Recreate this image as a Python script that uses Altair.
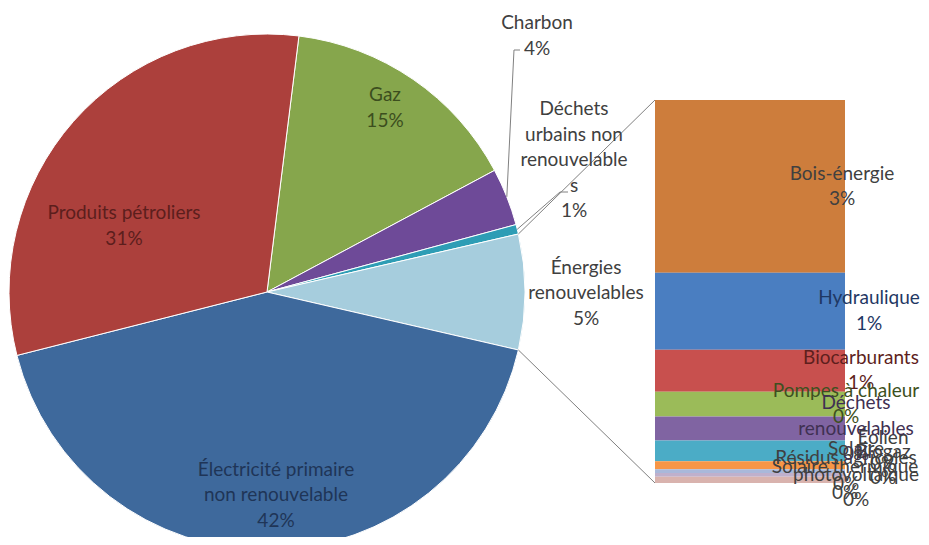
import math
import altair as alt
import pandas as pd

# ---------------- data ----------------
pie_categories = ["Gaz", "Charbon", "Déchets urbains non renouvelables",
                  "Énergies renouvelables",
                  "Électricité primaire non renouvelable", "Produits pétroliers"]
pie_values_other = [15.2, 3.6, 0.6, None, 42.4, 30.9]   # ENR = sum of the bar below
pie_label_text = ["Gaz\n15%", "Charbon\n4%",
                  "Déchets\nurbains non\nrenouvelable\ns\n1%",
                  "Énergies\nrenouvelables\n5%",
                  "Électricité primaire\nnon renouvelable\n42%",
                  "Produits pétroliers\n31%"]

bar_categories = ["Bois-énergie", "Hydraulique", "Biocarburants", "Pompes à chaleur",
                  "Déchets renouvelables", "Éolien", "Biogaz", "Résidus agricoles",
                  "Solaire photovoltaïque", "Solaire thermique"]
bar_values = [3.25, 1.45, 0.79, 0.47, 0.45, 0.39, 0.15, 0.07, 0.07, 0.12]
bar_label_text = ["Bois-énergie\n3%", "Hydraulique\n1%", "Biocarburants\n1%",
                  "Pompes à chaleur\n0%", "Déchets\nrenouvelables\n0%", "Éolien\n0%",
                  "Biogaz\n0%", "Résidus agricoles\n0%", "Solaire\nphotovoltaïque\n0%",
                  "Solaire thermique\n0%"]

# ---------------- styles ----------------
pie_colors = ["#86A64C", "#6E4A98", "#2E9DB5", "#A6CDDD", "#3E699C", "#AC403C"]
bar_colors = ["#CD7D3C", "#4A7EC1", "#C8504E", "#9BBB59", "#8064A2", "#4BACC6",
              "#F79646", "#A9B8DA", "#BFB0CC", "#D9B3AE"]
pie_label_colors = ["#3C4E1E", "#404040", "#404040", "#404040", "#1F3557", "#5C1E1C"]
bar_label_colors = ["#404040", "#1F3864", "#5E1F1D", "#3D5020", "#3F3052",
                    "#404040", "#404040", "#404040", "#404040", "#404040"]
# label block centres (chart pixels)
pie_label_pos = [(377, 100), (529, 28), (566, 152), (578, 285), (268, 487), (116, 218)]
bar_label_x = [834, 861, 853, 838, 848, 875, 875, 838, 848, 837]

W, H = 913, 529
CX, CY, R = 259, 284, 258
BX0, BX1 = 647, 837
BY_TOP, BY_BOT = 92, 475
FONT = "Lato"
FS = 19
LH = 25.5
LINE = "#808080"

# ---------------- derived ----------------
enr_total = sum(bar_values)
pie_values = [enr_total if v is None else v for v in pie_values_other]
total = sum(pie_values)
enr_i = pie_categories.index("Énergies renouvelables")
cum = [sum(pie_values[:i]) for i in range(len(pie_values))]
start = math.pi / 2 - 2 * math.pi * (cum[enr_i] + pie_values[enr_i] / 2) / total


def ang(v):
    return start + 2 * math.pi * v / total


def edge(a):
    return CX + R * math.sin(a), CY - R * math.cos(a)


def nlines(t):
    return t.count("\n") + 1


pie_df = pd.DataFrame({"cat": pie_categories, "value": pie_values,
                       "idx": list(range(len(pie_categories)))})

bar_start = [enr_total - sum(bar_values[:i + 1]) for i in range(len(bar_values))]
bar_end = [s + v for s, v in zip(bar_start, bar_values)]
bar_df = pd.DataFrame({"cat": bar_categories, "y0": bar_start, "y1": bar_end,
                       "mid": [(a + b) / 2 for a, b in zip(bar_start, bar_end)],
                       "text": bar_label_text, "tc": bar_label_colors,
                       "lx": bar_label_x,
                       "n": [nlines(t) for t in bar_label_text]})

all_cats = pie_categories + bar_categories
all_cols = pie_colors + bar_colors
color_scale = alt.Scale(domain=all_cats, range=all_cols)
bar_y = alt.Scale(domain=[0, enr_total], range=[BY_BOT, BY_TOP], zero=False, nice=False)

# lines: connectors and leaders
e0 = edge(ang(cum[enr_i]))
e1 = edge(ang(cum[enr_i] + pie_values[enr_i]))
ch = edge(ang(cum[1] + pie_values[1] / 2))
du = edge(ang(cum[2] + pie_values[2] / 2))
seg = [
    (e0[0], e0[1], BX0, BY_TOP),
    (e1[0], e1[1], BX0, BY_BOT),
    (ch[0], ch[1], 506, 42), (506, 42, 512, 42),
    (du[0], du[1], 552, 184), (552, 184, 560, 184),
]
line_df = pd.DataFrame(seg, columns=["x", "y", "x2", "y2"])

pie_lab_df = pd.DataFrame({
    "text": pie_label_text, "tc": pie_label_colors,
    "lx": [p[0] for p in pie_label_pos],
    "ly": [p[1] - (nlines(t) - 1) * LH / 2 for p, t in zip(pie_label_pos, pie_label_text)],
})

# ---------------- marks ----------------
arcs = alt.Chart(pie_df).mark_arc(outerRadius=R, stroke="#ffffff", strokeWidth=1).encode(
    theta=alt.Theta("value:Q", stack=True,
                    scale=alt.Scale(domain=[0, total], range=[start, start + 2 * math.pi])),
    order=alt.Order("idx:Q"),
    color=alt.Color("cat:N", scale=color_scale, legend=None),
    x=alt.value(CX), y=alt.value(CY),
)

bar = alt.Chart(bar_df).mark_rect().encode(
    x=alt.value(BX0), x2=alt.value(BX1),
    y=alt.Y("y0:Q", scale=bar_y, axis=None), y2="y1:Q",
    color=alt.Color("cat:N", scale=color_scale, legend=None),
)

lines = alt.Chart(line_df).mark_rule(color=LINE, strokeWidth=1).encode(
    x=alt.X("x:Q", scale=None, axis=None), y=alt.Y("y:Q", scale=None, axis=None),
    x2="x2:Q", y2="y2:Q",
)

pie_labels = alt.Chart(pie_lab_df).mark_text(
    font=FONT, fontSize=FS, lineBreak="\n", lineHeight=LH, align="center", baseline="middle"
).encode(
    x=alt.X("lx:Q", scale=None, axis=None), y=alt.Y("ly:Q", scale=None, axis=None),
    text="text:N", color=alt.Color("tc:N", scale=None),
)

bar_label_layers = []
for n in sorted(set(bar_df["n"])):
    bar_label_layers.append(
        alt.Chart(bar_df[bar_df["n"] == n]).mark_text(
            font=FONT, fontSize=FS, lineBreak="\n", lineHeight=LH, align="center",
            baseline="middle", dy=-(n - 1) * LH / 2
        ).encode(
            x=alt.X("lx:Q", scale=None, axis=None),
            y=alt.Y("mid:Q", scale=bar_y, axis=None),
            text="text:N", color=alt.Color("tc:N", scale=None),
        )
    )

chart = alt.layer(arcs, bar, lines, pie_labels, *bar_label_layers).resolve_scale(
    x="independent", y="independent", color="independent"
).properties(
    width=W, height=H, padding=0, autosize="none", background="#ffffff"
).configure_view(stroke=None)

chart.save("out.html", embed_options={"renderer": "svg", "actions": False})
